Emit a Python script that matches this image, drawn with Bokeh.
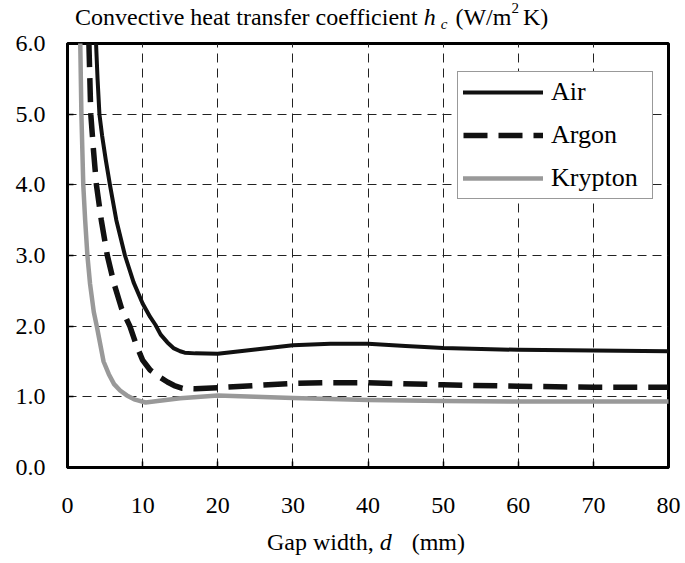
from bokeh.plotting import figure
from bokeh.layouts import column
from bokeh.models import (Range1d, FixedTicker, PrintfTickFormatter, Legend,
                          LegendItem, Div)
from bokeh.embed import file_html
from bokeh.resources import INLINE

# ---------------- data ----------------
air_d = [3.6, 3.8, 4.0, 4.25, 4.6, 5.1, 5.65, 6.5, 7.65, 8.8, 10.0, 11.0, 11.7,
         12.4, 13.3, 14.1, 15.0, 15.6, 17, 20, 25, 30, 35, 40, 45, 50, 60, 70, 80]
air_h = [6.4, 6.0, 5.5, 5.0, 4.7, 4.35, 4.0, 3.5, 3.0, 2.62, 2.32, 2.13, 2.02,
         1.88, 1.77, 1.69, 1.645, 1.625, 1.615, 1.61, 1.67, 1.73, 1.75, 1.75,
         1.72, 1.69, 1.665, 1.655, 1.645]

argon_d = [2.7, 2.85, 3.1, 3.45, 3.85, 4.5, 5.3, 6.2, 7.2, 8.3, 9.2, 10.0, 11.0,
           12.4, 13.3, 14.2, 15.3, 17, 20, 25, 30, 35, 40, 50, 60, 70, 80]
argon_h = [6.5, 6.0, 5.0, 4.5, 4.0, 3.5, 3.0, 2.6, 2.25, 2.0, 1.72, 1.52, 1.38,
           1.27, 1.21, 1.16, 1.12, 1.115, 1.13, 1.16, 1.19, 1.20, 1.20, 1.17,
           1.15, 1.135, 1.135]

krypton_d = [1.6, 1.7, 1.85, 2.1, 2.35, 2.65, 3.0, 3.5, 3.9, 4.8, 5.5, 6.2, 7.0,
             7.9, 9.0, 10.4, 12, 15, 20, 25, 30, 40, 50, 60, 70, 80]
krypton_h = [6.6, 6.0, 5.0, 4.0, 3.5, 3.0, 2.6, 2.2, 2.0, 1.5, 1.32, 1.18, 1.09,
             1.02, 0.96, 0.92, 0.94, 0.98, 1.02, 1.0, 0.985, 0.955, 0.94, 0.935,
             0.935, 0.935]

x_ticks = [0, 10, 20, 30, 40, 50, 60, 70, 80]
y_ticks = [0, 1, 2, 3, 4, 5, 6]
series_names = ["Air", "Argon", "Krypton"]

FONT = "Liberation Serif"
CSS_FONT = "font-family:'Liberation Serif',serif;color:black;white-space:nowrap;"

# ---------------- title (rich text) ----------------
title_div = Div(
    text=('<div style="' + CSS_FONT + 'font-size:24px;line-height:29px;'
          'padding-top:3px;padding-left:75px;">'
          'Convective heat transfer coefficient <i>h</i>'
          '<span style="font-size:15px;font-style:italic;position:relative;'
          'top:4px;margin-left:5px;">c</span>'
          '<span style="margin-left:8px;">(W/m</span>'
          '<span style="font-size:15px;position:relative;top:-12px;">2</span>'
          '<span style="margin-left:4px;">K)</span></div>'),
    width=685, height=29, margin=(0, 0, 0, 0))

# ---------------- figure ----------------
p = figure(width=685, height=498, output_backend="svg", toolbar_location=None,
           x_range=Range1d(0, 80), y_range=Range1d(0, 6),
           min_border_left=67, min_border_right=17, min_border_top=14,
           min_border_bottom=60, background_fill_color="white",
           border_fill_color="white", margin=(0, 0, 0, 0))

p.outline_line_color = "black"
p.outline_line_width = 3

for ax in (p.xaxis[0], p.yaxis[0]):
    ax.axis_line_width = 3
    ax.axis_line_color = "black"
    ax.major_tick_in = 6
    ax.major_tick_out = 0
    ax.major_tick_line_width = 1.5
    ax.major_tick_line_color = "black"
    ax.minor_tick_line_color = None
    ax.major_label_text_font = FONT
    ax.major_label_text_font_size = "24px"
    ax.major_label_text_color = "black"

p.xaxis[0].ticker = FixedTicker(ticks=x_ticks)
p.yaxis[0].ticker = FixedTicker(ticks=y_ticks)
p.yaxis[0].formatter = PrintfTickFormatter(format="%.1f")
p.xaxis[0].major_label_standoff = 30
p.yaxis[0].major_label_standoff = 22

for g in (p.xgrid[0], p.ygrid[0]):
    g.grid_line_color = "#222222"
    g.grid_line_width = 1
    g.grid_line_dash = "9 6"

r_air = p.line(air_d, air_h, line_color="#111111", line_width=4,
               line_join="round", line_cap="round")
r_arg = p.line(argon_d, argon_h, line_color="#111111", line_width=5.5,
               line_dash="24 11", line_join="round")
r_kr = p.line(krypton_d, krypton_h, line_color="#999999", line_width=4.5,
              line_join="round", line_cap="round")

legend = Legend(items=[LegendItem(label=series_names[0], renderers=[r_air]),
                       LegendItem(label=series_names[1], renderers=[r_arg]),
                       LegendItem(label=series_names[2], renderers=[r_kr])],
                location=(390, 268), orientation="vertical",
                label_text_font=FONT, label_text_font_size="26px",
                label_text_color="black",
                glyph_width=80, glyph_height=20, label_standoff=8,
                label_width=96, padding=5, spacing=13, margin=0,
                border_line_color="#333333", border_line_width=1,
                background_fill_color="white", background_fill_alpha=1)
p.add_layout(legend)

# ---------------- x-axis label (rich text) ----------------
xlabel_div = Div(
    text=('<div style="' + CSS_FONT + 'font-size:24px;line-height:30px;'
          'padding-left:267px;">'
          'Gap width, <i>d</i>'
          '<span style="margin-left:20px;">(mm)</span></div>'),
    width=685, height=36, margin=(0, 0, 0, 0))

layout = column(title_div, p, xlabel_div, spacing=0)

open("out.html", "w").write(file_html(layout, INLINE))
